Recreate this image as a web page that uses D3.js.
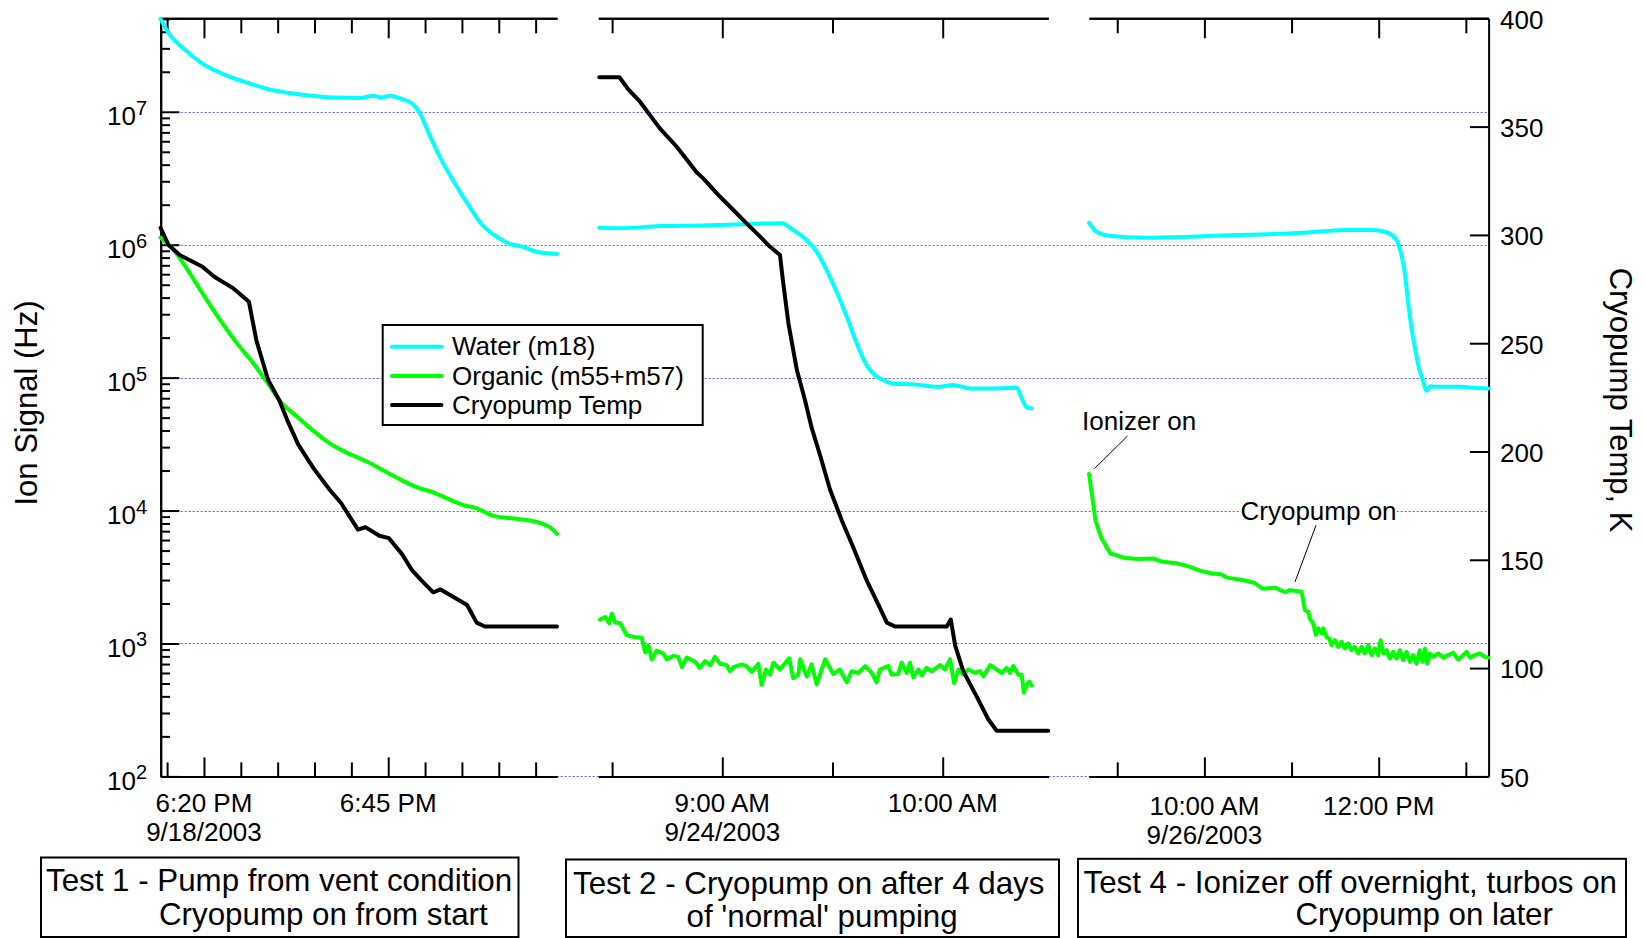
<!DOCTYPE html>
<html>
<head>
<meta charset="utf-8">
<script src="https://cdn.jsdelivr.net/npm/d3@7"></script>
<style>
  body { margin: 0; background: #fff; }
  svg { display: block; font-family: "Liberation Sans", Arial, sans-serif; }
</style>
</head>
<body>
<svg id="chart" width="1645" height="938"></svg>
<script>
// ---- data: [minutes after the test's base hour, value] ----
// Test 1 base = 6:00 PM 9/18/2003, Test 2 / Test 4 base = 8:00 AM
const test1Water = [[14.1, 5.0e7], [15.2, 3.9e7], [17.2, 3.0e7], [19.8, 2.3e7], [23.5, 1.83e7], [26.1, 1.64e7],
  [28.7, 1.48e7], [31.3, 1.39e7], [33.9, 1.33e7], [37.5, 1.28e7], [41.1, 1.27e7], [43.0, 1.32e7], [44.0, 1.28e7],
  [45.3, 1.32e7], [46.6, 1.26e7], [48.2, 1.16e7], [49.2, 1.0e7], [50.5, 6.9e6], [52.1, 4.46e6], [54.2, 2.8e6],
  [56.2, 1.87e6], [57.8, 1.4e6], [59.4, 1.18e6], [61.4, 1.02e6], [63.5, 9.55e5], [65.1, 8.85e5], [67.9, 8.5e5]];
const test1Organic = [[14.1, 1.13e6], [15.7, 9.4e5], [17.8, 6.44e5], [19.8, 4.3e5], [21.9, 2.87e5], [24.5, 1.81e5],
  [26.9, 1.24e5], [28.7, 9.0e4], [30.2, 6.8e4], [32.8, 5.0e4], [34.9, 3.96e4], [37.0, 3.22e4], [39.1, 2.77e4],
  [42.2, 2.32e4], [44.8, 1.94e4], [47.4, 1.63e4], [49.0, 1.49e4], [51.1, 1.37e4], [52.6, 1.26e4], [55.2, 1.1e4],
  [57.0, 1.04e4], [59.1, 9.2e3], [62.0, 8.7e3], [64.0, 8.45e3], [66.9, 7.5e3], [67.9, 6.67e3]];
const test1Temp = [[14.1, 303.3], [15.2, 295.3], [16.7, 290.7], [19.8, 285.3], [21.4, 280.7], [24.0, 275.3],
  [26.1, 269.1], [27.1, 251.5], [28.7, 233], [30.2, 223.8], [31.3, 214.5], [32.8, 203.2], [34.9, 192.1],
  [37.0, 182.6], [38.6, 176.2], [40.9, 163.9], [41.9, 165.1], [43.8, 161.1], [45.1, 160], [46.9, 152.5],
  [48.2, 145.3], [49.5, 140.5], [51.1, 135], [52.1, 136.3], [54.2, 132.1], [55.7, 129.1], [57.0, 121],
  [58.1, 119.2], [67.9, 119.2]];

const test2Water = [[26.5, 1.34e6], [32.2, 1.33e6], [43.0, 1.38e6], [56.7, 1.4e6], [66.6, 1.43e6], [76.2, 1.45e6],
  [79.3, 1.29e6], [83.0, 1.08e6], [85.7, 8.85e5], [88.4, 6.45e5], [91.1, 4.43e5], [93.9, 2.87e5], [96.6, 1.81e5],
  [99.3, 1.24e5], [101.6, 1.04e5], [103.8, 9.6e4], [106.6, 9.0e4], [111.1, 8.9e4], [115.6, 8.7e4], [118.4, 8.5e4],
  [122.9, 8.8e4], [127.4, 8.3e4], [133.8, 8.3e4], [140.2, 8.4e4], [141.5, 7.0e4], [142.9, 5.97e4], [144.2, 5.87e4]];
const test2Organic = [[26.7, 1508], [28.1, 1580], [29.2, 1420], [29.9, 1675], [30.8, 1437], [32.2, 1420],
  [34.0, 1153], [35.8, 1120], [38.1, 1100], [39.0, 857], [39.9, 964], [40.8, 760], [42.1, 883], [43.9, 841],
  [44.9, 760], [46.7, 807], [48.0, 793], [49.0, 663], [50.3, 783], [52.6, 729], [53.9, 655], [55.3, 738],
  [56.7, 687], [58.0, 793], [59.4, 703], [61.2, 687], [62.1, 618], [63.0, 663], [65.3, 696], [66.6, 676],
  [68.0, 611], [69.8, 703], [70.7, 488], [71.9, 637], [73.0, 583], [73.9, 717], [75.7, 637], [78.2, 774],
  [79.3, 548], [80.7, 583], [81.2, 760], [83.0, 565], [84.3, 696], [85.7, 493], [88.0, 760], [90.2, 589],
  [92.0, 637], [93.9, 511], [95.2, 618], [97.0, 600], [98.9, 676], [100.7, 600], [102.0, 511], [102.9, 637],
  [105.2, 675], [106.1, 583], [107.9, 589], [108.8, 717], [110.2, 600], [111.1, 717], [112.0, 555], [113.4, 637],
  [114.3, 575], [115.6, 655], [117.0, 618], [119.3, 687], [120.6, 637], [122.0, 760], [123.1, 502], [124.3, 637],
  [125.6, 583], [127.0, 637], [128.8, 600], [130.2, 618], [131.1, 565], [132.9, 687], [134.7, 637], [136.1, 600],
  [137.4, 655], [138.3, 600], [139.2, 676], [140.6, 583], [141.5, 583], [142.1, 427], [142.9, 493], [143.6, 517],
  [144.2, 482]];
const test2Temp = [[26.5, 372.8], [32.0, 372.8], [34.4, 367.2], [37.6, 361.5], [43.0, 349.2], [47.6, 340.7],
  [53.0, 328.9], [54.8, 326.1], [59.4, 317.6], [63.0, 311.5], [66.6, 305.3], [70.3, 299.2], [73.0, 294.5],
  [75.7, 290.7], [76.6, 277.6], [78.0, 259.2], [80.3, 237.6], [82.5, 223.8], [84.3, 211.1], [86.6, 198.4],
  [89.3, 182.6], [92.5, 168.3], [95.7, 155.6], [99.3, 140.5], [102.0, 131], [104.8, 121], [107.0, 119.2],
  [121.1, 119.2], [122.2, 122.4], [123.4, 110.4], [125.6, 98.6], [129.3, 86.7], [132.4, 76.4], [134.7, 71.1],
  [148.7, 71.1]];

const test4Water = [[40.6, 1.46e6], [45.0, 1.27e6], [54.0, 1.17e6], [79.8, 1.13e6], [110.8, 1.15e6],
  [149.6, 1.19e6], [188.3, 1.23e6], [201.2, 1.26e6], [216.7, 1.29e6], [234.7, 1.29e6], [245.1, 1.24e6],
  [251.5, 1.12e6], [255.4, 8.6e5], [258.0, 6.09e5], [260.6, 3.41e5], [263.2, 2.15e5], [265.7, 1.52e5],
  [267.8, 1.17e5], [270.3, 9.58e4], [272.9, 7.96e4], [275.6, 8.63e4], [278.7, 8.53e4], [296.7, 8.53e4],
  [304.5, 8.38e4], [315.6, 8.3e4]];
const test4Organic = [[40.6, 1.885e4], [42.4, 1.36e4], [45.0, 8.45e3], [48.9, 6.28e3], [55.3, 4.75e3],
  [65.7, 4.39e3], [74.7, 4.32e3], [85.0, 4.35e3], [90.2, 4.14e3], [100.5, 4.02e3], [109.6, 3.79e3],
  [117.3, 3.52e3], [125.1, 3.36e3], [131.5, 3.32e3], [135.4, 3.13e3], [147.0, 2.99e3], [154.7, 2.85e3],
  [159.9, 2.58e3], [168.9, 2.62e3], [175.4, 2.43e3], [178.8, 2.52e3], [186.9, 2.45e3], [189.2, 1.78e3],
  [191.5, 1.73e3], [192.6, 1.54e3], [194.9, 1.41e3], [196.7, 1.16e3], [198.3, 1.3e3], [200.6, 1.19e3],
  [201.8, 1.3e3], [204.1, 1.12e3], [205.9, 1.09e3], [207.5, 971], [209.8, 1059], [212.1, 944], [214.4, 1029],
  [216.7, 917], [219.0, 1000], [221.3, 890], [223.6, 944], [225.9, 841], [228.2, 944], [230.5, 841],
  [232.8, 971], [235.1, 817], [237.4, 917], [239.6, 817], [241.3, 1059], [243.1, 841], [245.4, 890],
  [247.7, 771], [250.0, 865], [252.3, 771], [254.6, 890], [256.9, 749], [259.2, 865], [261.5, 727],
  [263.7, 817], [266.0, 706], [268.3, 890], [270.2, 727], [271.8, 917], [273.4, 706], [275.2, 841],
  [277.5, 793], [281.0, 841], [284.4, 783], [287.8, 817], [291.3, 850], [294.7, 757], [298.2, 817],
  [300.5, 865], [302.8, 783], [306.2, 817], [309.6, 841], [313.1, 793], [315.4, 783]];

// ---- labels ----
const test1Ticks = ["6:20 PM", "6:45 PM"];
const test2Ticks = ["9:00 AM", "10:00 AM"];
const test4Ticks = ["10:00 AM", "12:00 PM"];
const testDates = ["9/18/2003", "9/24/2003", "9/26/2003"];
const seriesNames = ["Water (m18)", "Organic (m55+m57)", "Cryopump Temp"];
const tempTicks = [50, 100, 150, 200, 250, 300, 350, 400];
const captions = [
  ["Test 1 - Pump from vent condition", "Cryopump on from start"],
  ["Test 2 - Cryopump on after 4 days", "of 'normal' pumping"],
  ["Test 4 - Ionizer off overnight, turbos on", "Cryopump on later"]
];
const notes = ["Ionizer on", "Cryopump on"];

// ---- layout ----
const svg = d3.select("#chart");
const yTop = 18.3, yBottom = 776.4;
const leftX = 160.7, rightX = 1488.6;
const WATER = "#00ffff", ORGANIC = "#00ff00", TEMP = "#000000";
const font = 26;
const lineW = 4;

const yLog = d3.scaleLog().domain([100, 5.05e7]).range([yBottom, yTop]);
const yTemp = d3.scaleLinear().domain([50, 400]).range([yBottom, yTop]);

const parseClock = d3.timeParse("%I:%M %p");
function atClock(dayStr, clock) {
  const d = new Date(dayStr), t = parseClock(clock);
  return new Date(d.getFullYear(), d.getMonth(), d.getDate(), t.getHours(), t.getMinutes());
}

const panels = [
  { day: testDates[0], base: "6:00 PM", span: [14.13, 67.9], range: [160.7, 557], step: 5, ticks: test1Ticks,
    shift: 0, water: test1Water, organic: test1Organic, temp: test1Temp, smoothOrg: true },
  { day: testDates[1], base: "8:00 AM", span: [26.24, 148.75], range: [598.3, 1048.3], step: 30, ticks: test2Ticks,
    shift: 0, water: test2Water, organic: test2Organic, temp: test2Temp },
  { day: testDates[2], base: "8:00 AM", span: [40.55, 315.66], range: [1089, 1488.6], step: 60, ticks: test4Ticks,
    shift: 3, water: test4Water, organic: test4Organic, temp: null }
];

// gridlines at each decade, across the whole plot
const decades = [1e2, 1e3, 1e4, 1e5, 1e6, 1e7];
svg.append("g")
  .selectAll("line")
  .data(decades)
  .join("line")
  .attr("x1", leftX).attr("x2", rightX)
  .attr("y1", (d) => Math.round(yLog(d)) + 0.5)
  .attr("y2", (d) => Math.round(yLog(d)) + 0.5)
  .attr("stroke", "#5a5aff")
  .attr("stroke-width", 1)
  .attr("stroke-dasharray", "2,2");

function styleAxis(g) {
  g.select(".domain").attr("stroke", "#000").attr("stroke-width", 2);
  g.selectAll(".tick line").attr("stroke", "#000").attr("stroke-width", 2);
}

// left log axis
const minorLog = d3.range(2, 8).flatMap((e) => d3.range(2, 10).map((k) => k * Math.pow(10, e)))
  .filter((v) => v <= 5.05e7);
svg.append("g").attr("transform", `translate(${leftX},0)`)
  .call(d3.axisLeft(yLog).tickValues(minorLog).tickSize(-9.3).tickSizeOuter(0).tickFormat(""))
  .call(styleAxis);
svg.append("g").attr("transform", `translate(${leftX},0)`)
  .call(d3.axisLeft(yLog).tickValues(decades).tickSize(-18.7).tickSizeOuter(0).tickFormat(""))
  .call(styleAxis);

const expLabels = svg.append("g")
  .selectAll("text")
  .data(decades)
  .join("text")
  .attr("x", 147)
  .attr("y", (d) => yLog(d) + 13.5)
  .attr("text-anchor", "end")
  .attr("font-size", font);
expLabels.append("tspan").text("10");
expLabels.append("tspan").attr("dy", -10.5).attr("font-size", 20).text((d) => Math.round(Math.log10(d)));

// right temperature axis
const rightAxis = svg.append("g").attr("transform", `translate(${rightX},0)`)
  .call(d3.axisRight(yTemp).tickValues(tempTicks).tickSize(-18.7).tickPadding(11.5).tickSizeOuter(0))
  .call(styleAxis);
rightAxis.selectAll("text")
  .attr("font-size", font)
  .attr("font-family", "Liberation Sans, Arial, sans-serif")
  .attr("fill", "#000")
  .attr("dy", "0.38em");

// panels
panels.forEach((p) => {
  const base = atClock(p.day, p.base);
  const toDate = (m) => new Date(base.getTime() + m * 60000);
  const x = d3.scaleTime().domain([toDate(p.span[0]), toDate(p.span[1])]).range(p.range);

  const majors = p.ticks.map((t) => atClock(p.day, t));
  const minors = d3.timeMinute.every(p.step).range(x.domain()[0], x.domain()[1])
    .filter((d) => !majors.some((m) => +m === +d));

  [[d3.axisTop, yTop, -15, -20], [d3.axisBottom, yBottom, -14, -19]].forEach(([axisFn, y, minorLen, majorLen]) => {
    svg.append("g").attr("transform", `translate(0,${y})`)
      .call(axisFn(x).tickValues(minors).tickSize(minorLen).tickSizeOuter(0).tickFormat(""))
      .call(styleAxis);
    svg.append("g").attr("transform", `translate(0,${y})`)
      .call(axisFn(x).tickValues(majors).tickSize(majorLen).tickSizeOuter(0).tickFormat(""))
      .call(styleAxis);
  });

  // time labels, date under the first one
  svg.append("g")
    .selectAll("text")
    .data(p.ticks)
    .join("text")
    .attr("x", (d) => x(atClock(p.day, d)))
    .attr("y", 811.8 + p.shift)
    .attr("text-anchor", "middle")
    .attr("font-size", font)
    .text((d) => d);
  svg.append("text")
    .attr("x", x(majors[0]))
    .attr("y", 841 + p.shift)
    .attr("text-anchor", "middle")
    .attr("font-size", font)
    .text(p.day);

  const line = (yScale, curve) => d3.line()
    .x((d) => x(toDate(d[0])))
    .y((d) => yScale(d[1]))
    .curve(curve);

  svg.append("path")
    .datum(p.water)
    .attr("d", line(yLog, d3.curveMonotoneX))
    .attr("fill", "none").attr("stroke", WATER).attr("stroke-width", lineW)
    .attr("stroke-linejoin", "round").attr("stroke-linecap", "round");
  svg.append("path")
    .datum(p.organic)
    .attr("d", line(yLog, p.smoothOrg ? d3.curveMonotoneX : d3.curveLinear))
    .attr("fill", "none").attr("stroke", ORGANIC).attr("stroke-width", lineW)
    .attr("stroke-linejoin", "round").attr("stroke-linecap", "round");
  if (p.temp) {
    svg.append("path")
      .datum(p.temp)
      .attr("d", line(yTemp, d3.curveLinear))
      .attr("fill", "none").attr("stroke", TEMP).attr("stroke-width", lineW)
      .attr("stroke-linejoin", "round").attr("stroke-linecap", "round");
  }
});

// axis titles
svg.append("text")
  .attr("transform", "translate(37,403) rotate(-90)")
  .attr("text-anchor", "middle")
  .attr("font-size", 31)
  .text("Ion Signal (Hz)");
svg.append("text")
  .attr("transform", "translate(1610,400) rotate(90)")
  .attr("text-anchor", "middle")
  .attr("font-size", 31)
  .text("Cryopump Temp, K");

// legend
const legend = svg.append("g");
legend.append("rect")
  .attr("x", 382.7).attr("y", 325).attr("width", 320).attr("height", 100)
  .attr("fill", "#fff").attr("stroke", "#000").attr("stroke-width", 2);
const legendRows = legend.selectAll("g.row")
  .data(seriesNames)
  .join("g")
  .attr("class", "row")
  .attr("transform", (d, i) => `translate(0,${346.7 + i * 29.2})`);
legendRows.append("line")
  .attr("x1", 392).attr("x2", 441.5)
  .attr("stroke", (d, i) => [WATER, ORGANIC, TEMP][i])
  .attr("stroke-width", lineW).attr("stroke-linecap", "round");
legendRows.append("text")
  .attr("x", 452).attr("y", 8.6)
  .attr("font-size", font)
  .text((d) => d);

// annotations
svg.append("line").attr("x1", 1127.5).attr("y1", 436).attr("x2", 1094.5).attr("y2", 468.6)
  .attr("stroke", "#000").attr("stroke-width", 1);
svg.append("text").attr("x", 1082).attr("y", 429.5).attr("font-size", font).text(notes[0]);
const cryoNote = svg.append("g");
const cryoText = cryoNote.append("text").attr("x", 1240.5).attr("y", 519.5).attr("font-size", font).text(notes[1]);
const bb = cryoText.node().getBBox();
cryoNote.insert("rect", "text").attr("x", bb.x).attr("y", bb.y).attr("width", bb.width).attr("height", bb.height)
  .attr("fill", "#fff");
svg.append("line").attr("x1", 1316).attr("y1", 525.3).attr("x2", 1295).attr("y2", 581.9)
  .attr("stroke", "#000").attr("stroke-width", 1);

// caption boxes
const boxes = [
  { x0: 41, x1: 518.5, top: 857.5, lines: [[46, 890.7], [159, 925]] },
  { x0: 566, x1: 1059, top: 859.5, lines: [[573, 894], [686.5, 927]] },
  { x0: 1078, x1: 1626, top: 858.8, lines: [[1083.5, 892.5], [1295.5, 925]] }
];
boxes.forEach((b, i) => {
  svg.append("rect")
    .attr("x", b.x0).attr("y", b.top).attr("width", b.x1 - b.x0).attr("height", 937 - b.top)
    .attr("fill", "none").attr("stroke", "#000").attr("stroke-width", 2);
  captions[i].forEach((txt, j) => {
    svg.append("text")
      .attr("x", b.lines[j][0]).attr("y", b.lines[j][1])
      .attr("font-size", 31.3)
      .text(txt);
  });
});
</script>
</body>
</html>
